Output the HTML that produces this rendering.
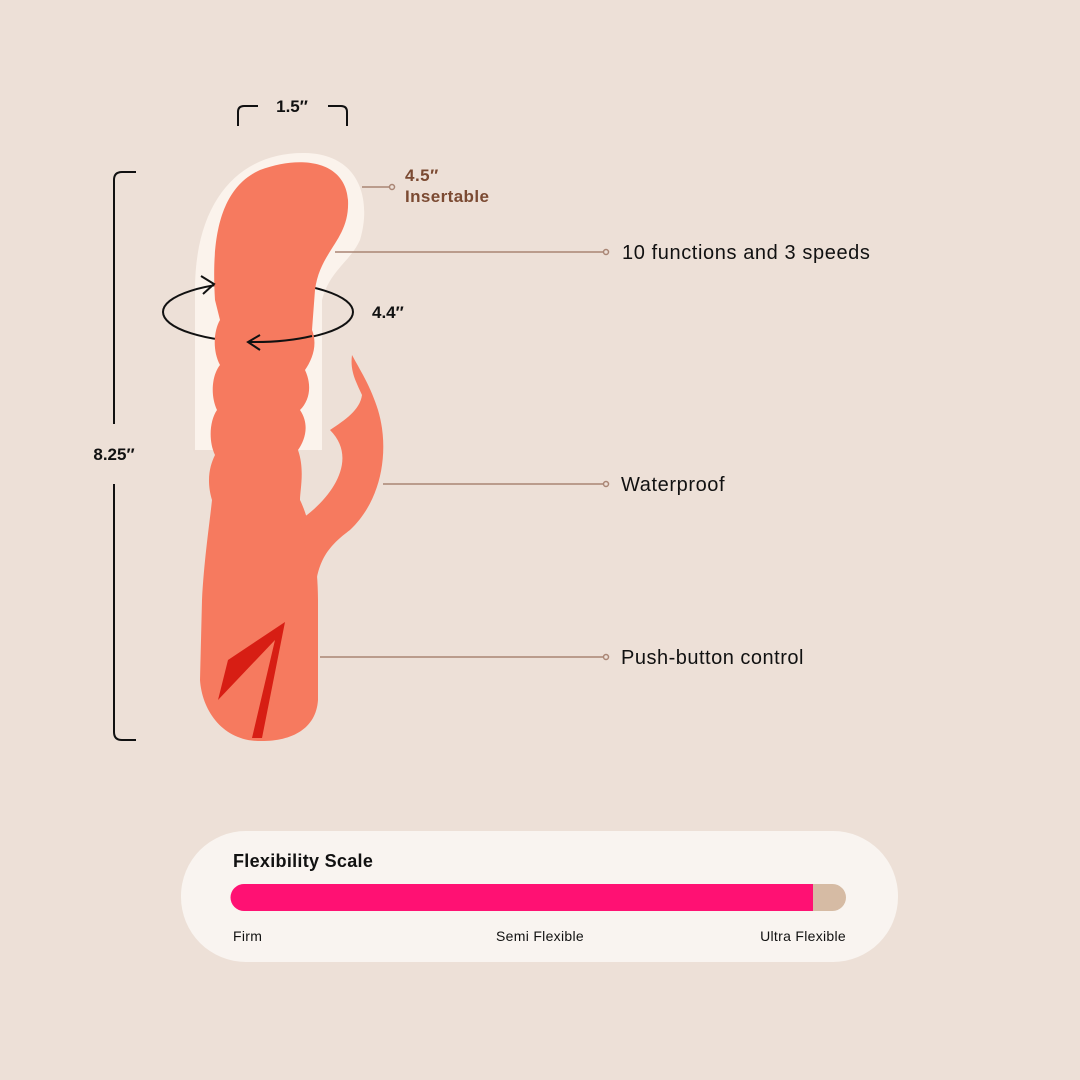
<!DOCTYPE html>
<html><head><meta charset="utf-8"><style>
html,body{margin:0;padding:0;background:#EDE0D7;}
svg{display:block}
text{font-family:"Liberation Sans",sans-serif;}
</style></head><body>
<svg width="1080" height="1080" viewBox="0 0 1080 1080" xmlns="http://www.w3.org/2000/svg">
<rect width="1080" height="1080" fill="#EDE0D7"/>
<path d="M195 450 L195 290 C195 200 240 152 305 153 C360 154 372 200 360 240 C350 262 330 270 322 300 L322 450 Z" fill="#FBF3EC"/>
<ellipse cx="258" cy="312" rx="95" ry="30" fill="none" stroke="#111" stroke-width="2"/>
<g fill="#F67A5F">
<path d="M215 300 C212 250 215 190 260 170 C300 155 345 160 348 200 C350 240 320 250 315 290 L312 330 C318 345 312 360 305 370 C312 385 310 400 300 410 C310 425 305 440 298 450 C305 470 300 490 300 500 C310 520 318 560 318 600 L318 700 C316 730 290 742 258 741 C222 740 202 710 200 680 L202 600 C204 560 210 520 212 500 C206 480 210 465 215 455 C208 440 210 420 217 410 C210 395 212 375 220 365 C212 350 214 330 220 320 Z"/>
<path d="M300 520 C330 500 360 460 330 430 C345 420 360 410 362 395 C355 380 350 370 352 355 C360 370 370 385 378 410 C390 450 382 500 350 530 C330 545 315 560 315 600 Z"/>
</g>
<path d="M228 660 L285 622 L262 738 L252 738 L275 640 L218 700 Z" fill="#D71E14"/>
<path d="M250 342 A95 30 0 0 0 312 336" fill="none" stroke="#111" stroke-width="2"/>
<path d="M201 276 L214 284 L203 294 M260 335 L248 342 L260 350" fill="none" stroke="#111" stroke-width="2"/>
<path d="M238 126 L238 112 Q238 106 244 106 L258 106 M328 106 L341 106 Q347 106 347 112 L347 126" fill="none" stroke="#111" stroke-width="2"/>
<text x="292" y="112" font-size="17" font-weight="bold" text-anchor="middle" fill="#111">1.5″</text>
<path d="M136 172 L122 172 Q114 172 114 180 L114 424 M114 484 L114 732 Q114 740 122 740 L136 740" fill="none" stroke="#111" stroke-width="2"/>
<text x="114" y="460" font-size="17" font-weight="bold" text-anchor="middle" fill="#111">8.25″</text>
<text x="372" y="318" font-size="17" font-weight="bold" fill="#111">4.4″</text>
<g stroke="#A98574" stroke-width="1.5" fill="none">
<line x1="362" y1="187" x2="390" y2="187"/><circle cx="392" cy="187" r="2.5"/>
<line x1="335" y1="252" x2="604" y2="252"/><circle cx="606" cy="252" r="2.5"/>
<line x1="383" y1="484" x2="604" y2="484"/><circle cx="606" cy="484" r="2.5"/>
<line x1="320" y1="657" x2="604" y2="657"/><circle cx="606" cy="657" r="2.5"/>
</g>
<text x="405" y="181" font-size="17" font-weight="bold" fill="#7B4A32" letter-spacing="0.5">4.5″</text>
<text x="405" y="202" font-size="17" font-weight="bold" fill="#7B4A32" letter-spacing="0.4">Insertable</text>
<text x="622" y="259" font-size="20" fill="#111" letter-spacing="0.6">10 functions and 3 speeds</text>
<text x="621" y="491" font-size="20" fill="#111" letter-spacing="0.6">Waterproof</text>
<text x="621" y="664" font-size="20" fill="#111" letter-spacing="0.5">Push-button control</text>
<rect x="181" y="831" width="717" height="131" rx="65" fill="#F9F4F0"/>
<text x="233" y="867" font-size="18" font-weight="bold" fill="#111" letter-spacing="0.3">Flexibility Scale</text>
<rect x="231" y="884" width="615" height="27" rx="13.5" fill="#D6BBA4"/>
<path d="M244 884 L813 884 L813 911 L244 911 A13.5 13.5 0 0 1 244 884 Z" fill="#FF1173"/>
<text x="233" y="941" font-size="14" fill="#111" letter-spacing="0.3">Firm</text>
<text x="540" y="941" font-size="14" fill="#111" text-anchor="middle" letter-spacing="0.3">Semi Flexible</text>
<text x="846" y="941" font-size="14" fill="#111" text-anchor="end" letter-spacing="0.3">Ultra Flexible</text>
</svg>
</body></html>
